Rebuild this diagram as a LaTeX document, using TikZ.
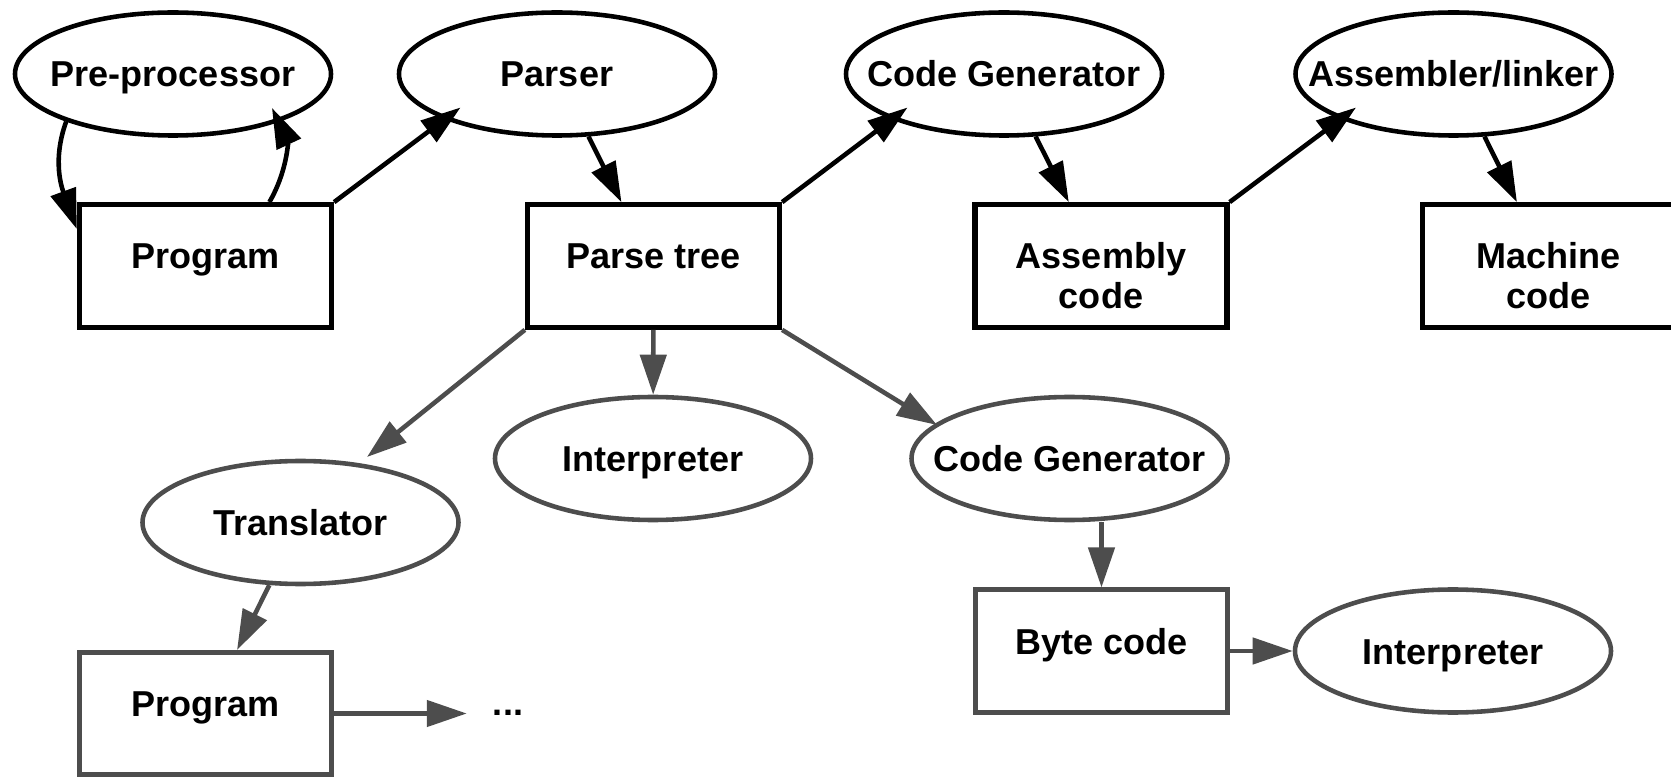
\documentclass[tikz,border=0pt]{standalone}
\usepackage{fontspec}
\setmainfont{Liberation Sans}
\usepackage{xcolor}
\definecolor{compgray}{RGB}{77,77,77}
\usetikzlibrary{arrows.meta,positioning,shapes.geometric,calc}
\newcommand{\compfont}{\fontsize{20.5pt}{22.6pt}\selectfont\bfseries}

\begin{document}
\begin{tikzpicture}[
  compproc/.style={ellipse,draw,line width=2.6pt,minimum width=6.32cm,minimum height=2.46cm,
    inner xsep=-1.6cm,text height=0.52cm,text depth=0pt,font=\compfont},
  compdata/.style={draw,line width=3pt,minimum width=5.04cm,minimum height=2.45cm,
    align=center,text height=0.52cm,text depth=0.40cm,font=\compfont},
  compdatatwo/.style={compdata,text height=1.70cm,text depth=0pt},
  comparr/.style={-{Triangle[length=0.8cm,width=0.52cm]},line width=2.6pt},
  compback/.style={draw=compgray,line width=2.6pt}
]
  \useasboundingbox (0,0) rectangle (33.42,15.58);
  % Compiler chain
  \node[compproc] (prep) at (3.46,14.10) {Pre-processor};
  \node[compproc] (parser) at (11.14,14.10) {Parser};
  \node[compproc] (codegen) at (20.08,14.10) {Code Generator};
  \node[compproc] (asmlink) at (29.07,14.10) {Assembler/linker};
  \node[compdata] (prog) at (4.11,10.26) {Program};
  \node[compdata] (ptree) at (13.07,10.26) {Parse tree};
  \node[compdatatwo] (asmcode) at (22.02,10.26) {Assembly\\code};
  \node[compdatatwo] (mcode) at (30.97,10.26) {Machine\\code};
  % Arrows
  \draw[comparr] (prep.204) to[out=250,in=110] (prog.164);
  \draw[comparr] (prog.45) to[out=60,in=-65] ($(prep)+(1.98,-0.68)$);
  \draw[comparr] (prog.north east) -- ($(parser)+(-1.93,-0.67)$);
  \draw[comparr] (parser) -- (ptree);
  \draw[comparr] (ptree.north east) -- ($(codegen)+(-1.93,-0.67)$);
  \draw[comparr] (codegen) -- (asmcode);
  \draw[comparr] (asmcode.north east) -- ($(asmlink)+(-1.95,-0.67)$);
  \draw[comparr] (asmlink) -- (mcode);
  % Other ways out of the parse tree
  \node[compproc,compback] (interp) at (13.06,6.41) {Interpreter};
  \node[compproc,compback] (codegen2) at (21.39,6.41) {Code Generator};
  \node[compproc,compback] (transl) at (6.01,5.13) {Translator};
  \node[compdata,compback] (prog2) at (4.11,1.31) {Program};
  \node[compdata,compback] (bytecode) at (22.03,2.56) {Byte code};
  \node[compproc,compback] (interp2) at (29.06,2.56) {Interpreter};
  \node[font=\compfont,anchor=base] (dots) at (10.16,1.28) {...};
  \draw[comparr,compgray] (ptree.south west) -- ($(transl)+(1.33,1.31)$);
  \draw[comparr,compgray] (ptree) -- (interp);
  \draw[comparr,compgray] (ptree.south east) -- ($(codegen2)+(-2.65,0.67)$);
  \draw[comparr,compgray] (codegen2.south -| bytecode.north) -- (bytecode.north);
  \draw[comparr,compgray] (bytecode) -- (interp2);
  \draw[comparr,compgray] (transl) -- (prog2);
  \draw[comparr,compgray,shorten >=0.4cm] (prog2.east) -- (prog2.east -| dots.west);
\end{tikzpicture}
\end{document}
